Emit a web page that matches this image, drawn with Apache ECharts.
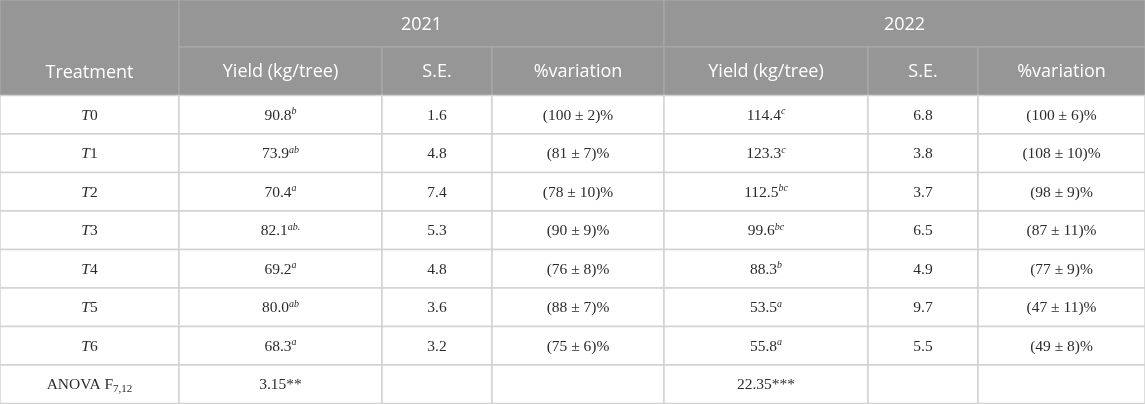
<!DOCTYPE html>
<html>
<head>
<meta charset="utf-8">
<script src="https://cdn.jsdelivr.net/npm/echarts@6/dist/echarts.min.js"></script>
<style>
  html, body { margin: 0; padding: 0; background: #fff; }
  #main { width: 1145px; height: 404px; }
</style>
</head>
<body>
<div id="main"></div>
<script>
// table values
const years = ['2021', '2022']
const subHeaders = ['Yield (kg/tree)', 'S.E.', '%variation']
const treatments = ['0', '1', '2', '3', '4', '5', '6']
const yield2021 = ['90.8', '73.9', '70.4', '82.1', '69.2', '80.0', '68.3']
const letters2021 = ['b', 'ab', 'a', 'ab.', 'a', 'ab', 'a']
const se2021 = ['1.6', '4.8', '7.4', '5.3', '4.8', '3.6', '3.2']
const variation2021 = ['(100 ± 2)%', '(81 ± 7)%', '(78 ± 10)%', '(90 ± 9)%', '(76 ± 8)%', '(88 ± 7)%', '(75 ± 6)%']
const yield2022 = ['114.4', '123.3', '112.5', '99.6', '88.3', '53.5', '55.8']
const letters2022 = ['c', 'c', 'bc', 'bc', 'b', 'a', 'a']
const se2022 = ['6.8', '3.8', '3.7', '6.5', '4.9', '9.7', '5.5']
const variation2022 = ['(100 ± 6)%', '(108 ± 10)%', '(98 ± 9)%', '(87 ± 11)%', '(77 ± 9)%', '(47 ± 11)%', '(49 ± 8)%']
const anova = ['3.15**', '22.35***']

// layout of the grid (pixels of the value axes)
const colEdges = [0, 179, 382, 492, 664, 868, 978, 1145]
const rowEdges = [0, 47, 95.5]
for (let i = 0; i < 8; i++) rowEdges.push(95.5 + (i + 1) * 38.5)

const cells = []
function addCell(c0, c1, r0, r1, text, kind, valign) {
  cells.push({ value: [colEdges[c0], colEdges[c1], rowEdges[r0], rowEdges[r1]], text, kind, valign })
}

// header
addCell(0, 1, 0, 2, 'Treatment', 'head', 'bottom')
years.forEach((y, i) => addCell(1 + i * 3, 4 + i * 3, 0, 1, y, 'head'))
years.forEach((y, i) => {
  subHeaders.forEach((s, j) => addCell(1 + i * 3 + j, 2 + i * 3 + j, 1, 2, s, 'head'))
})

// body
const byYear = [
  [yield2021, letters2021, se2021, variation2021],
  [yield2022, letters2022, se2022, variation2022],
]
treatments.forEach((t, r) => {
  addCell(0, 1, r + 2, r + 3, '{it|T}{n|' + t + '}', 'body')
  byYear.forEach(([yv, lt, se, vr], i) => {
    addCell(1 + i * 3, 2 + i * 3, r + 2, r + 3, '{n|' + yv[r] + '}{sup|' + lt[r] + '}', 'body')
    addCell(2 + i * 3, 3 + i * 3, r + 2, r + 3, '{n|' + se[r] + '}', 'body')
    addCell(3 + i * 3, 4 + i * 3, r + 2, r + 3, '{n|' + vr[r] + '}', 'body')
  })
})
const lastRow = treatments.length + 2
addCell(0, 1, lastRow, lastRow + 1, '{n|ANOVA F}{sub|7,12}', 'body')
anova.forEach((a, i) => {
  addCell(1 + i * 3, 2 + i * 3, lastRow, lastRow + 1, '{n|' + a + '}', 'body')
  addCell(2 + i * 3, 3 + i * 3, lastRow, lastRow + 1, '', 'body')
  addCell(3 + i * 3, 4 + i * 3, lastRow, lastRow + 1, '', 'body')
})

const serif = '"Liberation Serif", "DejaVu Serif", serif'
const bodyRich = {
  n: { fontFamily: serif, fontSize: 15.5, fill: '#2b2b2b', lineHeight: 18 },
  it: { fontFamily: serif, fontSize: 15.5, fontStyle: 'italic', fill: '#2b2b2b', lineHeight: 18 },
  sup: { fontFamily: serif, fontSize: 10, fontStyle: 'italic', fill: '#2b2b2b', lineHeight: 11, verticalAlign: 'top' },
  sub: { fontFamily: serif, fontSize: 11, fill: '#2b2b2b', lineHeight: 12, verticalAlign: 'bottom' },
}

const chart = echarts.init(document.getElementById('main'))

chart.setOption({
  animation: false,
  grid: { left: 0, right: 0, top: 0, bottom: 0 },
  xAxis: { type: 'value', min: 0, max: 1145, show: false },
  yAxis: { type: 'value', min: 0, max: 404, inverse: true, show: false },
  series: [{
    type: 'custom',
    clip: false,
    encode: { x: [0, 1], y: [2, 3] },
    data: cells.map(c => c.value),
    renderItem(params, api) {
      const cell = cells[params.dataIndex]
      const p0 = api.coord([api.value(0), api.value(2)])
      const p1 = api.coord([api.value(1), api.value(3)])
      const head = cell.kind === 'head'
      const cx = (p0[0] + p1[0]) / 2
      const cy = cell.valign === 'bottom' ? p1[1] - 24 : (p0[1] + p1[1]) / 2
      return {
        type: 'group',
        children: [
          {
            type: 'rect',
            shape: { x: p0[0], y: p0[1], width: p1[0] - p0[0], height: p1[1] - p0[1] },
            style: {
              fill: head ? '#969696' : '#ffffff',
              stroke: head ? '#ababab' : '#d2d2d2',
              lineWidth: head ? 1 : 1.5,
            },
          },
          {
            type: 'text',
            style: head ? {
              text: cell.text,
              x: cx, y: cy + 1,
              align: 'center', verticalAlign: 'middle',
              fontFamily: '"Open Sans", sans-serif', fontSize: 18,
              fill: '#ffffff',
            } : {
              text: cell.text,
              x: cx, y: cy + 1,
              align: 'center', verticalAlign: 'middle',
              rich: bodyRich,
            },
          },
        ],
      }
    },
  }],
})
</script>
</body>
</html>
